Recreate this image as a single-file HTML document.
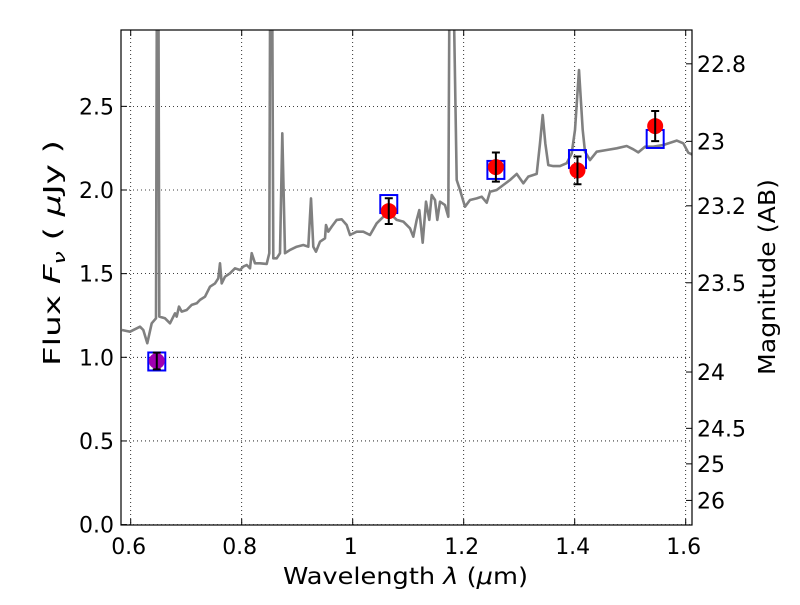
<!DOCTYPE html>
<html><head><meta charset="utf-8"><style>
body{margin:0;background:#fff;width:800px;height:600px;overflow:hidden}
svg{font-family:"DejaVu Sans","Liberation Sans",sans-serif}
</style></head><body>
<svg id="chart" width="800" height="600" viewBox="0 0 800 600" xmlns="http://www.w3.org/2000/svg" xml:space="preserve">
<defs><clipPath id="clip"><rect x="121" y="30" width="571" height="495"/></clipPath></defs>
<rect x="0" y="0" width="800" height="600" fill="#fff"/>
<g id="grid"></g>
<g id="spec" clip-path="url(#clip)"></g>
<g id="marks"></g>
<rect x="121" y="30" width="571" height="495" fill="none" stroke="#000" stroke-width="1.2"/>
<g id="axes"></g>
<text x="283" y="584" font-size="23" textLength="245" lengthAdjust="spacingAndGlyphs">Wavelength  <tspan font-style="italic">λ</tspan> (<tspan font-style="italic">μ</tspan>m)</text>
<text transform="translate(60,366) rotate(-90)" font-size="23" textLength="226" lengthAdjust="spacingAndGlyphs">Flux  <tspan font-style="italic">F</tspan><tspan font-style="italic" font-size="16" dy="5">ν</tspan><tspan dy="-5">  ( </tspan><tspan font-style="italic">μ</tspan>Jy )</text>
<text transform="translate(775,375) rotate(-90)" font-size="23" textLength="196" lengthAdjust="spacingAndGlyphs">Magnitude (AB)</text>
</svg>
<script>
const wave=[0.5843,0.5987,0.6168,0.6227,0.6299,0.6378,0.6456,0.6474,0.6497,0.6515,0.6618,0.6708,0.6798,0.6829,0.6870,0.6919,0.7009,0.7099,0.7189,0.7249,0.7339,0.7429,0.7519,0.7579,0.7609,0.7640,0.7699,0.7789,0.7879,0.7969,0.8029,0.8090,0.8150,0.8180,0.8240,0.8330,0.8450,0.8497,0.8515,0.8546,0.8570,0.8631,0.8690,0.8732,0.8780,0.8870,0.8991,0.9110,0.9200,0.9249,0.9290,0.9339,0.9411,0.9501,0.9519,0.9561,0.9622,0.9712,0.9802,0.9892,0.9951,1.0072,1.0191,1.0312,1.0432,1.0551,1.0672,1.0793,1.0912,1.1033,1.1092,1.1153,1.1200,1.1261,1.1321,1.1380,1.1423,1.1483,1.1524,1.1573,1.1663,1.1723,1.1748,1.1802,1.1874,1.1933,1.2023,1.2114,1.2234,1.2324,1.2414,1.2474,1.2595,1.2714,1.2834,1.2955,1.3074,1.3164,1.3315,1.3375,1.3423,1.3470,1.3524,1.3614,1.3735,1.3856,1.3946,1.4005,1.4077,1.4144,1.4186,1.4276,1.4396,1.4577,1.4757,1.4937,1.5056,1.5146,1.5267,1.5416,1.5596,1.5838,1.5957,1.6047,1.6137];
const flux=[1.163,1.153,1.183,1.163,1.084,1.203,1.233,3.5,3.5,1.243,1.233,1.203,1.263,1.243,1.303,1.273,1.283,1.313,1.323,1.343,1.362,1.422,1.442,1.472,1.562,1.442,1.482,1.502,1.532,1.522,1.542,1.552,1.532,1.622,1.562,1.562,1.558,1.622,3.5,3.5,1.592,1.592,1.622,2.339,1.622,1.642,1.661,1.671,1.661,1.950,1.661,1.631,1.691,1.711,1.791,1.751,1.781,1.821,1.825,1.791,1.731,1.751,1.751,1.731,1.801,1.840,1.861,1.821,1.811,1.771,1.721,1.821,1.880,1.685,1.930,1.821,1.970,1.940,1.821,1.930,1.910,1.840,3.5,3.5,2.060,2.000,1.900,1.940,1.950,1.960,1.924,1.990,2.000,2.030,2.060,2.096,2.040,2.080,2.096,2.279,2.448,2.279,2.149,2.143,2.143,2.160,2.219,2.359,2.717,2.359,2.229,2.179,2.229,2.239,2.249,2.263,2.243,2.225,2.259,2.259,2.269,2.295,2.279,2.223,2.209];
const photWave=[0.647,1.065,1.258,1.405,1.545];
const photFlux=[0.978,1.874,2.137,2.117,2.382];
const photErr=[0.05,0.077,0.087,0.083,0.09];
const modelFlux=[0.975,1.916,2.12,2.185,2.305];
const xTicks=[0.6,0.8,1.0,1.2,1.4,1.6];
const xTickLabels=["0.6","0.8","1","1.2","1.4","1.6"];
const yTicks=[0,0.5,1.0,1.5,2.0,2.5];
const yTickLabels=["0.0","0.5","1.0","1.5","2.0","2.5"];
const magTicks=[22.8,23,23.2,23.5,24,24.5,25,26];
const magTickLabels=["22.8","23","23.2","23.5","24","24.5","25","26"];

const NS="http://www.w3.org/2000/svg";
const X=v=>130.7+(v-0.6)*555;
const Y=v=>524.6-v*167.3;
const M=m=>Y(Math.pow(10,(23.9-m)/2.5));
function mk(tag,attrs,parent){const e=document.createElementNS(NS,tag);for(const k in attrs)e.setAttribute(k,attrs[k]);parent.appendChild(e);return e;}
const grid=document.getElementById('grid'),axes=document.getElementById('axes'),spec=document.getElementById('spec'),marks=document.getElementById('marks');

xTicks.forEach((t,i)=>{
  const g=mk('line',{x1:X(t),x2:X(t),y1:30,y2:525,stroke:'#000','stroke-width':0.8,'stroke-dasharray':'1,3'},grid);
  
  
  const tk=mk('line',{x1:X(t),x2:X(t),y1:525,y2:519,stroke:'#000'},axes);
  
  
  const tk2=mk('line',{x1:X(t),x2:X(t),y1:30,y2:36,stroke:'#000'},axes);
  
  
  const tx=mk('text',{x:X(t)-2,y:554,'font-size':22,'text-anchor':'middle'},axes);
  tx.textContent=xTickLabels[i];
  
  
});
yTicks.forEach((t,i)=>{
  const g=mk('line',{x1:121,x2:692,y1:Y(t),y2:Y(t),stroke:'#000','stroke-width':0.8,'stroke-dasharray':'1,3'},grid);
  
  
  const tk=mk('line',{x1:121,x2:127,y1:Y(t),y2:Y(t),stroke:'#000'},axes);
  
  
  const tx=mk('text',{x:114,y:Y(t)+8,'font-size':22,'text-anchor':'end'},axes);
  tx.textContent=yTickLabels[i];
  
  
});
magTicks.forEach((m,i)=>{
  const tk=mk('line',{x1:686,x2:692,y1:M(m),y2:M(m),stroke:'#000'},axes);
  
  
  const tx=mk('text',{x:697,y:M(m)+8,'font-size':22},axes);
  tx.textContent=magTickLabels[i];
  
  
});
const pts=wave.map((w,i)=>X(w).toFixed(1)+','+Y(flux[i]).toFixed(1)).join(' ');
const pl=mk('polyline',{points:pts,fill:'none',stroke:'#808080','stroke-width':2.6,'stroke-linejoin':'round'},spec);



photWave.forEach((w,i)=>{
  const cx=X(w);
  const sq=mk('rect',{x:cx-8.5,y:Y(modelFlux[i])-9,width:17,height:18,fill:'none',stroke:'#0000ff','stroke-width':2},marks);
  
  
  const c=mk('circle',{cx:cx,cy:Y(photFlux[i]),r:8,fill:i===0?'#a000b0':'#ff0000'},marks);
  
  
  const y1=Y(photFlux[i]+photErr[i]),y2=Y(photFlux[i]-photErr[i]);
  const eb=mk('path',{d:`M${cx},${y1}V${y2}M${cx-4},${y1}H${cx+4}M${cx-4},${y2}H${cx+4}`,stroke:'#000','stroke-width':2,fill:'none'},marks);
  
  
});
</script>
</body></html>
